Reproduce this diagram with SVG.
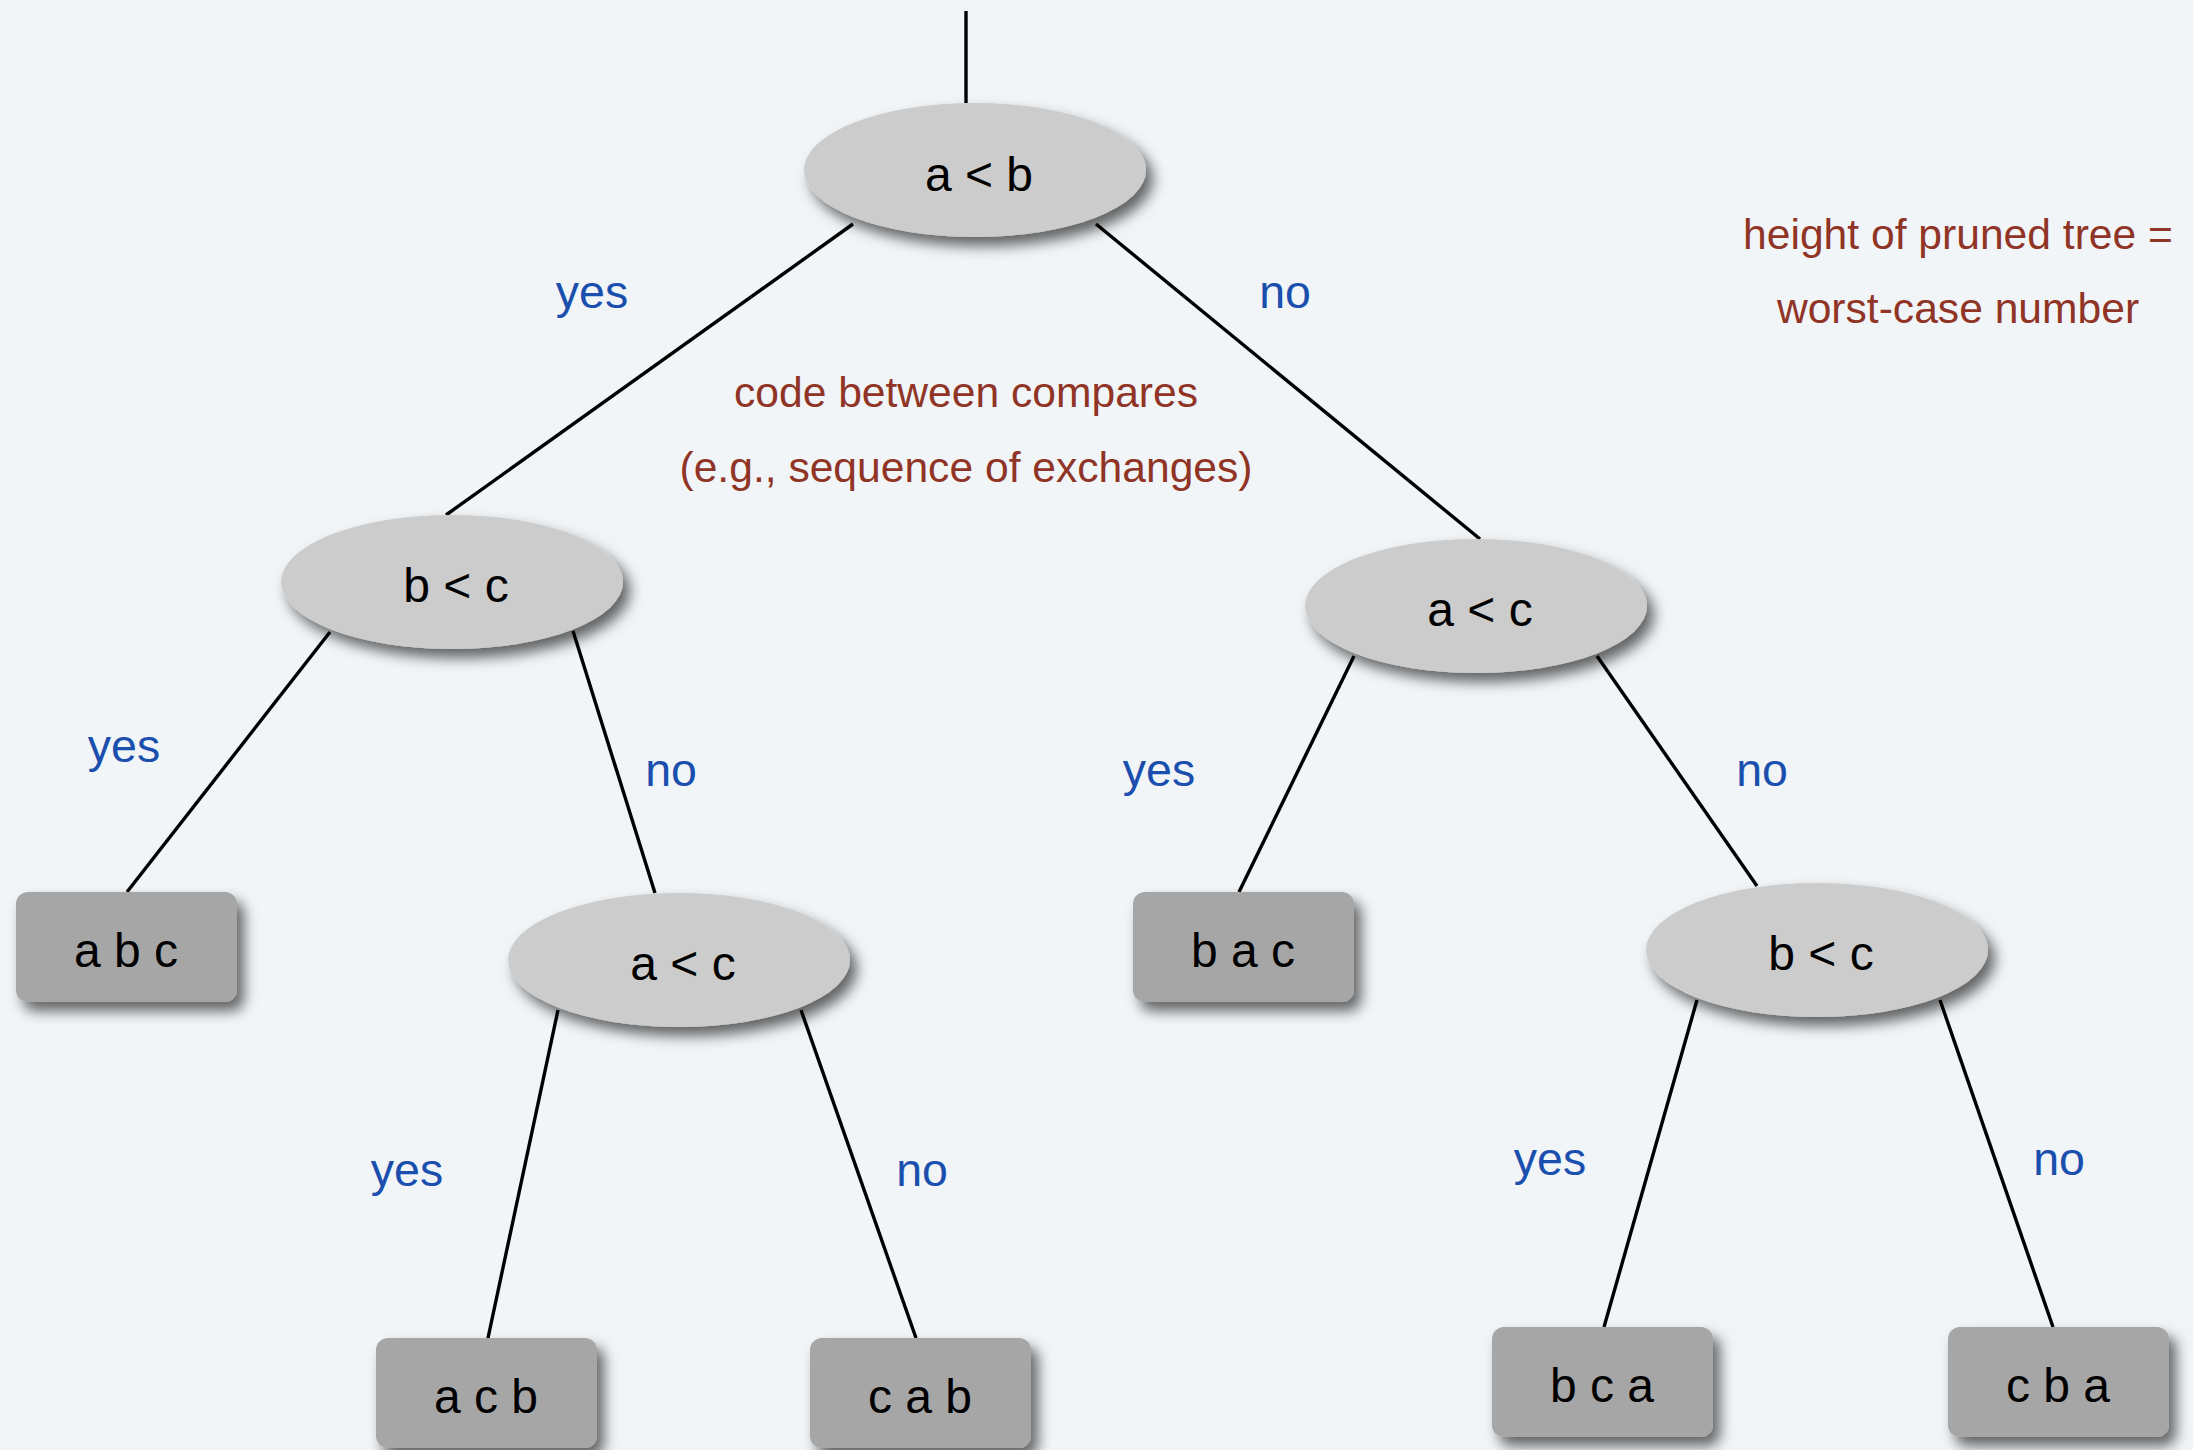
<svg xmlns="http://www.w3.org/2000/svg" width="2193" height="1450" viewBox="0 0 2193 1450">
  <defs>
    <filter id="shadow" x="-20%" y="-30%" width="150%" height="180%">
      <feDropShadow dx="7" dy="9" stdDeviation="7" flood-color="#000" flood-opacity="0.6"/>
    </filter>
  </defs>
  <style>
    .edge { stroke: #000; stroke-width: 3.4; fill: none; stroke-linecap: butt; }
    .cmp { fill: #cccccc; filter: url(#shadow); }
    .leaf { fill: #a6a6a6; filter: url(#shadow); }
    .nodetext { font-family: "Liberation Sans", Arial, sans-serif; font-size: 48px; fill: #000; text-anchor: middle; }
    .yn { font-family: "Liberation Sans", Arial, sans-serif; font-size: 46.5px; fill: #1a4fad; text-anchor: middle; }
    .note { font-family: "Liberation Sans", Arial, sans-serif; font-size: 42.6px; fill: #903426; text-anchor: middle; }
  </style>

  <rect width="2193" height="1450" fill="#f1f5f8"/>

  <!-- connectors -->
  <g id="connectors">
    <line class="edge" x1="966" y1="11" x2="966" y2="103"/>
    <line class="edge" x1="853" y1="224" x2="446" y2="515"/>
    <line class="edge" x1="1096" y1="224" x2="1480" y2="539"/>
    <line class="edge" x1="330" y1="632" x2="127" y2="892"/>
    <line class="edge" x1="573" y1="631" x2="655" y2="893"/>
    <line class="edge" x1="1354" y1="656" x2="1239" y2="892"/>
    <line class="edge" x1="1597" y1="656" x2="1757" y2="886"/>
    <line class="edge" x1="558" y1="1010" x2="488" y2="1338"/>
    <line class="edge" x1="801" y1="1010" x2="916" y2="1338"/>
    <line class="edge" x1="1697" y1="1000" x2="1604" y2="1327"/>
    <line class="edge" x1="1940" y1="1000" x2="2053" y2="1327"/>
  </g>

  <!-- yes / no edge labels -->
  <g id="edge-labels">
    <text class="yn" x="592" y="308">yes</text>
    <text class="yn" x="1285" y="308">no</text>
    <text class="yn" x="124" y="762">yes</text>
    <text class="yn" x="671" y="786">no</text>
    <text class="yn" x="1159" y="786">yes</text>
    <text class="yn" x="1762" y="786">no</text>
    <text class="yn" x="407" y="1186">yes</text>
    <text class="yn" x="922" y="1186">no</text>
    <text class="yn" x="1550" y="1175">yes</text>
    <text class="yn" x="2059" y="1175">no</text>
  </g>

  <!-- comparison nodes -->
  <g id="cmp-ab">
    <ellipse class="cmp" cx="975" cy="170" rx="171" ry="67"/>
    <text class="nodetext" x="979" y="191">a &lt; b</text>
  </g>
  <g id="cmp-bc-left">
    <ellipse class="cmp" cx="452" cy="582" rx="171" ry="67"/>
    <text class="nodetext" x="456" y="602">b &lt; c</text>
  </g>
  <g id="cmp-ac-right">
    <ellipse class="cmp" cx="1476" cy="606" rx="171" ry="67"/>
    <text class="nodetext" x="1480" y="626">a &lt; c</text>
  </g>
  <g id="cmp-ac-left">
    <ellipse class="cmp" cx="679" cy="960" rx="171" ry="67"/>
    <text class="nodetext" x="683" y="980">a &lt; c</text>
  </g>
  <g id="cmp-bc-right">
    <ellipse class="cmp" cx="1817" cy="950" rx="171" ry="67"/>
    <text class="nodetext" x="1821" y="970">b &lt; c</text>
  </g>

  <!-- leaves: resulting orders -->
  <g id="leaf-abc">
    <rect class="leaf" x="16" y="892" width="221" height="110" rx="12"/>
    <text class="nodetext" x="126" y="967">a b c</text>
  </g>
  <g id="leaf-bac">
    <rect class="leaf" x="1133" y="892" width="221" height="110" rx="12"/>
    <text class="nodetext" x="1243" y="967">b a c</text>
  </g>
  <g id="leaf-acb">
    <rect class="leaf" x="376" y="1338" width="221" height="110" rx="12"/>
    <text class="nodetext" x="486" y="1413">a c b</text>
  </g>
  <g id="leaf-cab">
    <rect class="leaf" x="810" y="1338" width="221" height="110" rx="12"/>
    <text class="nodetext" x="920" y="1413">c a b</text>
  </g>
  <g id="leaf-bca">
    <rect class="leaf" x="1492" y="1327" width="221" height="110" rx="12"/>
    <text class="nodetext" x="1602" y="1402">b c a</text>
  </g>
  <g id="leaf-cba">
    <rect class="leaf" x="1948" y="1327" width="221" height="110" rx="12"/>
    <text class="nodetext" x="2058" y="1402">c b a</text>
  </g>

  <!-- annotations -->
  <g id="notes">
    <text class="note" x="966" y="407">code between compares</text>
    <text class="note" x="966" y="482">(e.g., sequence of exchanges)</text>
    <text class="note" x="1958" y="249">height of pruned tree =</text>
    <text class="note" x="1958" y="323">worst-case number</text>
  </g>
</svg>
